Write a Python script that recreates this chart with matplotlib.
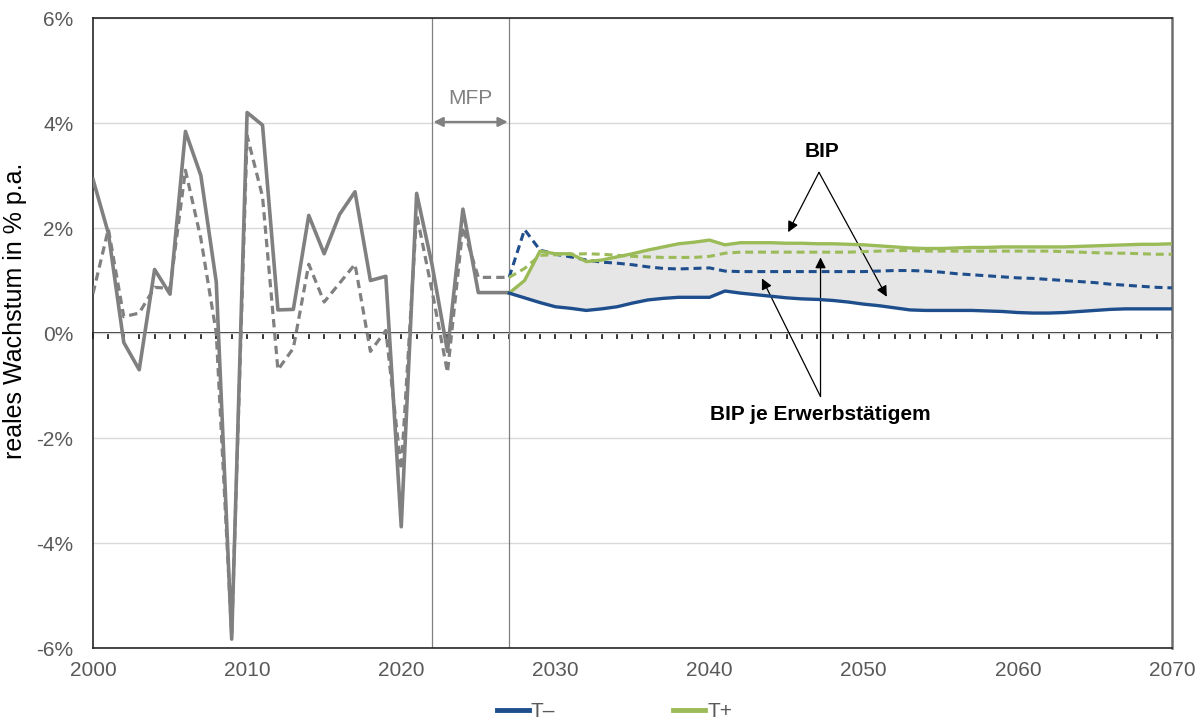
import matplotlib
matplotlib.use("Agg")
import matplotlib.pyplot as plt
from matplotlib.lines import Line2D
import numpy as np

plt.rcParams['font.family'] = ['Liberation Sans', 'DejaVu Sans']

# historical growth rates (% p.a.)
years_hist = list(range(2000, 2028))
bip_hist = [2.93, 1.9, -0.18, -0.70, 1.21, 0.74, 3.84, 3.0, 0.97, -5.83,
            4.2, 3.96, 0.44, 0.45, 2.24, 1.51, 2.26, 2.69, 1.0, 1.08,
            -3.69, 2.66, 1.3, -0.35, 2.36, 0.77, 0.77, 0.77]
prod_hist = [0.75, 1.98, 0.31, 0.38, 0.87, 0.85, 3.1, 1.8, 0.0, -5.75,
             3.76, 2.6, -0.70, -0.29, 1.31, 0.59, 0.95, 1.31, -0.35, 0.05,
             -2.6, 2.26, 0.8, -0.75, 2.02, 1.06, 1.06, 1.06]

# projections 2027-2070
years_proj = list(range(2027, 2071))
bip_low = [0.76, 0.67, 0.58, 0.50, 0.47, 0.43, 0.46, 0.50, 0.57, 0.63,
           0.66, 0.68, 0.68, 0.68, 0.80, 0.76, 0.73, 0.70, 0.67, 0.65,
           0.64, 0.62, 0.59, 0.55, 0.52, 0.48, 0.44, 0.43, 0.43, 0.43,
           0.43, 0.42, 0.41, 0.39, 0.38, 0.38, 0.39, 0.41, 0.43, 0.45,
           0.46, 0.46, 0.46, 0.46]
bip_high = [0.76, 1.0, 1.56, 1.51, 1.51, 1.36, 1.39, 1.45, 1.51, 1.58,
            1.64, 1.70, 1.73, 1.77, 1.68, 1.72, 1.72, 1.72, 1.71, 1.71,
            1.70, 1.70, 1.69, 1.68, 1.66, 1.64, 1.62, 1.61, 1.61, 1.62,
            1.63, 1.63, 1.64, 1.64, 1.64, 1.64, 1.64, 1.65, 1.66, 1.67,
            1.68, 1.69, 1.69, 1.70]
prod_low = [1.06, 1.97, 1.58, 1.50, 1.45, 1.39, 1.35, 1.33, 1.30, 1.26,
            1.23, 1.22, 1.23, 1.24, 1.18, 1.17, 1.17, 1.17, 1.17, 1.17,
            1.17, 1.17, 1.17, 1.17, 1.18, 1.19, 1.19, 1.18, 1.16, 1.13,
            1.11, 1.09, 1.07, 1.05, 1.04, 1.02, 1.00, 0.98, 0.96, 0.93,
            0.91, 0.89, 0.87, 0.86]
prod_high = [1.06, 1.23, 1.48, 1.49, 1.50, 1.51, 1.50, 1.48, 1.46, 1.45,
             1.44, 1.44, 1.44, 1.46, 1.52, 1.54, 1.54, 1.54, 1.54, 1.54,
             1.54, 1.54, 1.54, 1.55, 1.56, 1.57, 1.57, 1.56, 1.56, 1.56,
             1.56, 1.56, 1.56, 1.56, 1.56, 1.56, 1.55, 1.54, 1.53, 1.52,
             1.52, 1.51, 1.50, 1.50]

mfp_start, mfp_end = 2022, 2027
x_ticks = list(range(2000, 2071, 10))
y_ticks = [-6, -4, -2, 0, 2, 4, 6]

GRAY = '#808080'
BLUE = '#1f4e8c'
GREEN = '#9bbb59'
TXT = '#595959'
DASH = (2.6, 1.6)

fig = plt.figure(figsize=(12.04, 7.26), dpi=100)
ax = fig.add_axes([0.0772, 0.1074, 0.8962, 0.8678])

ax.fill_between(years_proj, bip_low, bip_high, color='#e6e6e6', lw=0, zorder=1)

ax.plot(years_hist, bip_hist, color=GRAY, lw=2.6, zorder=3)
ax.plot(years_hist, prod_hist, color=GRAY, lw=2.3, dashes=DASH, zorder=3)
ax.plot(years_proj, prod_low, color=BLUE, lw=2.2, dashes=DASH, zorder=4)
ax.plot(years_proj, prod_high, color=GREEN, lw=2.2, dashes=DASH, zorder=4)
ax.plot(years_proj, bip_high, color=GREEN, lw=2.4, zorder=5)
ax.plot(years_proj, bip_low, color=BLUE, lw=2.4, zorder=5)

for yr in (mfp_start, mfp_end):
    ax.axvline(yr, color=GRAY, lw=0.9, zorder=2)

ax.set_xlim(2000, 2070)
ax.set_ylim(-6, 6)
ax.set_yticks(y_ticks)
ax.set_yticklabels([f'{v}%' for v in y_ticks])
ax.set_xticks(x_ticks)
ax.tick_params(axis='both', length=0, labelsize=15, colors=TXT)
ax.tick_params(axis='y', pad=14)
ax.tick_params(axis='x', pad=9)
ax.grid(axis='y', color='#d9d9d9', lw=1, zorder=0)

for side in ('left', 'bottom', 'top'):
    ax.spines[side].set_color('#262626')
    ax.spines[side].set_linewidth(1.2)
ax.spines['right'].set_color('#6e6e6e')
ax.spines['right'].set_linewidth(1.8)

# zero line with yearly ticks
zero = ax.secondary_xaxis(0, transform=ax.transData)
zero.set_xticks(list(range(2000, 2071)))
zero.set_xticklabels([])
zero.tick_params(length=4.5, width=1.1, color='black', direction='out')
zero.spines['bottom'].set_color('black')
zero.spines['bottom'].set_linewidth(1.2)

ax.set_ylabel('reales Wachstum in % p.a.', fontsize=18, color='black')
ax.yaxis.set_label_coords(-0.061, 0.535)

# MFP marker
ax.annotate('', xy=(mfp_start, 4.02), xytext=(mfp_end, 4.02),
            arrowprops=dict(arrowstyle='<|-|>', color=GRAY, lw=1.6,
                            shrinkA=1, shrinkB=1, mutation_scale=14))
ax.text((mfp_start + mfp_end) / 2, 4.47, 'MFP', color=GRAY, fontsize=15,
        ha='center', va='center')

arrow_kw = dict(arrowstyle='-|>', color='black', lw=0.9, shrinkA=0, shrinkB=0,
                mutation_scale=16)
ax.text(2047.3, 3.45, 'BIP', fontsize=15, fontweight='bold', ha='center', va='center')
ax.annotate('', xy=(2045.1, 1.92), xytext=(2047.1, 3.06), arrowprops=arrow_kw)
ax.annotate('', xy=(2051.5, 0.69), xytext=(2047.1, 3.06), arrowprops=arrow_kw)

ax.text(2047.2, -1.56, 'BIP je Erwerbstätigem', fontsize=15, fontweight='bold',
        ha='center', va='center')
ax.annotate('', xy=(2043.4, 1.04), xytext=(2047.2, -1.21), arrowprops=arrow_kw)
ax.annotate('', xy=(2047.2, 1.44), xytext=(2047.2, -1.21), arrowprops=arrow_kw)

handles = [Line2D([], [], color=BLUE, lw=3.5), Line2D([], [], color=GREEN, lw=3.5)]
fig.legend(handles, ['T–', 'T+'], loc='center', bbox_to_anchor=(0.5104, 0.02),
           ncol=2, frameon=False, fontsize=15, labelcolor=TXT,
           handlelength=1.55, handletextpad=0.1, columnspacing=5.65,
           borderpad=0.1)

fig.savefig('out.png', dpi=100)
